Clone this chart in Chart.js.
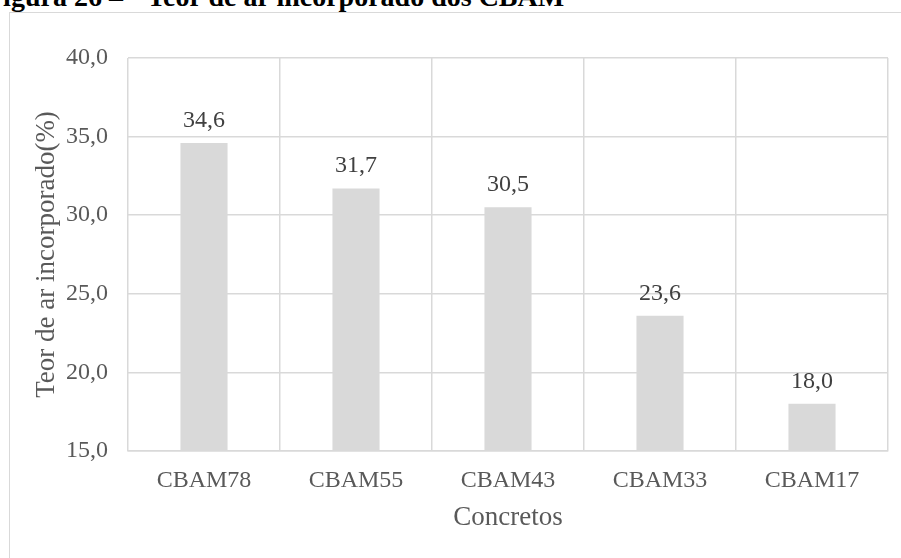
<!DOCTYPE html>
<html>
<head>
<meta charset="utf-8">
<script src="https://cdn.jsdelivr.net/npm/chart.js@4.4.1/dist/chart.umd.min.js"></script>
<style>
  html, body { margin: 0; padding: 0; background: #ffffff; overflow: hidden; }
  body { width: 901px; height: 558px; position: relative; }
  .frame { position: absolute; left: 9px; top: 12px; width: 1000px; height: 1000px;
           border: 1.5px solid #d9d9d9; box-sizing: border-box; }
  .fig-title { position: absolute; top: -17px; font: bold 28px "Liberation Serif", "Times New Roman", serif;
               line-height: 28px; color: #000; white-space: nowrap; }
  canvas { position: absolute; left: 0; top: 0; }
</style>
</head>
<body>
<div class="frame"></div>
<span class="fig-title" style="left:-14px">Figura 26 –</span>
<span class="fig-title" style="left:147px">Teor de ar incorporado dos CBAM</span>
<canvas id="chart" width="901" height="558"></canvas>
<script>
// Air content of each lightweight concrete mix (%)
const categories = ['CBAM78', 'CBAM55', 'CBAM43', 'CBAM33', 'CBAM17'];
const airContent = [34.6, 31.7, 30.5, 23.6, 18.0];
const yTicks = [15, 20, 25, 30, 35, 40];

const serif = '"Liberation Serif", "Times New Roman", serif';
const fmt = v => Number(v).toFixed(1).replace('.', ',');

// Value labels above each bar
const valueLabels = {
  id: 'valueLabels',
  afterDatasetsDraw(chart) {
    const ctx = chart.ctx;
    const meta = chart.getDatasetMeta(0);
    ctx.save();
    ctx.font = '24px ' + serif;
    ctx.fillStyle = '#404040';
    ctx.textAlign = 'center';
    ctx.textBaseline = 'alphabetic';
    meta.data.forEach((bar, i) => {
      ctx.fillText(fmt(chart.data.datasets[0].data[i]), bar.x, bar.y - 16);
    });
    ctx.restore();
  }
};

new Chart(document.getElementById('chart'), {
  type: 'bar',
  data: {
    labels: categories,
    datasets: [{
      data: airContent,
      backgroundColor: '#d9d9d9',
      borderWidth: 0,
      categoryPercentage: 1,
      barPercentage: 0.31
    }]
  },
  options: {
    responsive: false,
    animation: false,
    devicePixelRatio: 1,
    layout: { padding: { left: 31, top: 58, right: 13, bottom: 24 } },
    plugins: { legend: { display: false }, tooltip: { enabled: false }, title: { display: false } },
    scales: {
      x: {
        grid: { color: '#d9d9d9', lineWidth: 1.5, drawTicks: false, offset: true },
        border: { color: '#d9d9d9', width: 1.5 },
        ticks: { color: '#595959', font: { family: serif, size: 24 }, padding: 15 },
        title: { display: true, text: 'Concretos', color: '#595959',
                 font: { family: serif, size: 27 }, padding: 0 },
        afterFit(scale) { scale.height = 83; }
      },
      y: {
        min: 15, max: 40,
        afterBuildTicks(scale) { scale.ticks = yTicks.map(v => ({ value: v })); },
        grid: { color: '#d9d9d9', lineWidth: 1.5, drawTicks: false },
        border: { display: false },
        ticks: { color: '#595959', font: { family: serif, size: 24 }, padding: 20,
                 callback: v => fmt(v) },
        title: { display: true, text: 'Teor de ar incorporado(%)', color: '#595959',
                 font: { family: serif, size: 27 }, padding: 0 },
        afterFit(scale) { scale.width = 97; }
      }
    }
  },
  plugins: [valueLabels]
});
</script>
</body>
</html>
